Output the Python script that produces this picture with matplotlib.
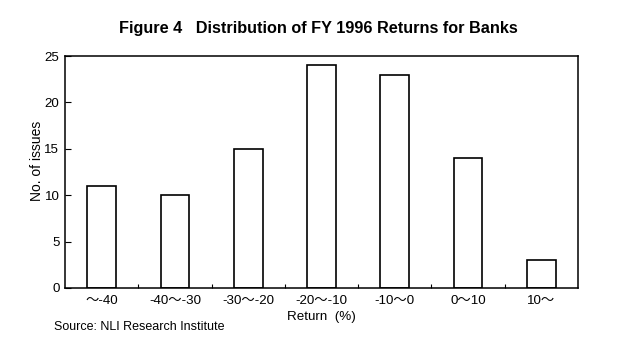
import matplotlib
matplotlib.use("Agg")
import matplotlib.pyplot as plt
import numpy as np

plt.rcParams['font.family'] = ['Liberation Sans', 'Noto Sans CJK JP', 'DejaVu Sans']

categories = ["～-40", "-40～-30", "-30～-20", "-20～-10", "-10～0", "0～10", "10～"]
counts = [11, 10, 15, 24, 23, 14, 3]
yticks = [0, 5, 10, 15, 20, 25]

fig = plt.figure(figsize=(6.23, 3.57), dpi=100)
W, H = 623, 357
ax = fig.add_axes([65 / W, 1 - 288 / H, (578 - 65) / W, (288 - 56) / H])

x = np.arange(len(categories))
ax.bar(x, counts, width=0.39, facecolor='white', edgecolor='black', linewidth=1.2)
ax.set_xlim(-0.5, len(categories) - 0.5)
ax.set_ylim(0, 25)
ax.set_yticks(yticks)
ax.set_xticks(x)
ax.set_xticklabels(categories, fontsize=9.6)
ax.tick_params(axis='x', length=0, pad=5)
ax.set_xticks(np.arange(len(categories) - 1) + 0.5, minor=True)
ax.tick_params(axis='x', which='minor', direction='in', length=3, width=0.8)
ax.tick_params(axis='y', direction='in', length=4, width=0.8, labelsize=9.6, pad=4)
for s in ax.spines.values():
    s.set_linewidth(1.1)

ax.set_ylabel("No. of issues", fontsize=10)
ax.yaxis.set_label_coords(-0.041, 0.547)
ax.set_xlabel("Return  (%)", fontsize=9.6, labelpad=3)

fig.text(318 / W, 1 - 28 / H, "Figure 4   Distribution of FY 1996 Returns for Banks",
         ha='center', va='center', fontsize=11.7, fontweight='bold')
fig.text(54 / W, 1 - 327 / H, "Source: NLI Research Institute", ha='left', va='center', fontsize=9)

fig.savefig("out.png", dpi=100)
